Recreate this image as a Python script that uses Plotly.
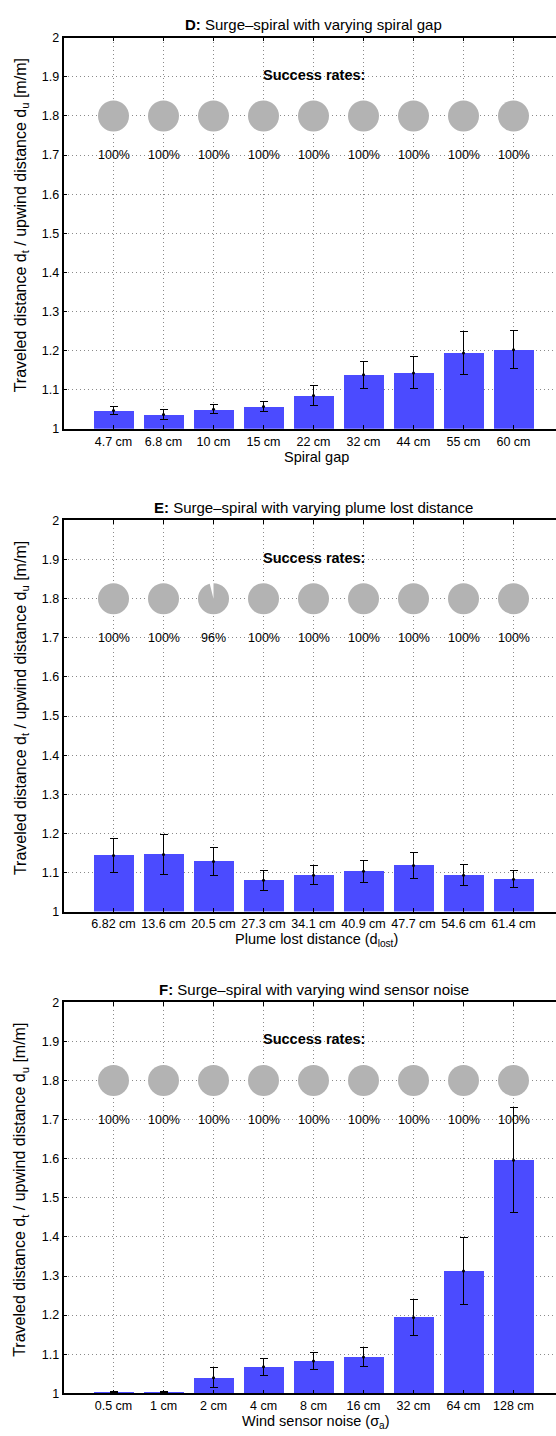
import math
import plotly.graph_objects as go

# ---------------- data ----------------
gap_labels = ["4.7 cm", "6.8 cm", "10 cm", "15 cm", "22 cm", "32 cm", "44 cm", "55 cm", "60 cm"]
gap_mean = [1.047, 1.037, 1.050, 1.057, 1.085, 1.138, 1.143, 1.194, 1.202]
gap_err = [0.011, 0.012, 0.012, 0.013, 0.025, 0.034, 0.041, 0.056, 0.049]
gap_success = [100, 100, 100, 100, 100, 100, 100, 100, 100]

lost_labels = ["6.82 cm", "13.6 cm", "20.5 cm", "27.3 cm", "34.1 cm", "40.9 cm", "47.7 cm", "54.6 cm", "61.4 cm"]
lost_mean = [1.1435, 1.146, 1.128, 1.080, 1.093, 1.103, 1.118, 1.093, 1.083]
lost_err = [0.044, 0.051, 0.036, 0.025, 0.024, 0.028, 0.034, 0.027, 0.021]
lost_success = [100, 100, 96, 100, 100, 100, 100, 100, 100]

noise_labels = ["0.5 cm", "1 cm", "2 cm", "4 cm", "8 cm", "16 cm", "32 cm", "64 cm", "128 cm"]
noise_mean = [1.003, 1.003, 1.040, 1.068, 1.083, 1.093, 1.194, 1.313, 1.596]
noise_err = [0.002, 0.002, 0.025, 0.022, 0.022, 0.024, 0.045, 0.085, 0.134]
noise_success = [100, 100, 100, 100, 100, 100, 100, 100, 100]

y_ticks = [1.0, 1.1, 1.2, 1.3, 1.4, 1.5, 1.6, 1.7, 1.8, 1.9, 2.0]
y_ticktext = ["1", "1.1", "1.2", "1.3", "1.4", "1.5", "1.6", "1.7", "1.8", "1.9", "2"]

panels = [
    dict(title="<b>D:</b> Surge\u2013spiral with varying spiral gap", xlabel="Spiral gap",
         labels=gap_labels, mean=gap_mean, err=gap_err, success=gap_success),
    dict(title="<b>E:</b> Surge\u2013spiral with varying plume lost distance",
         xlabel="Plume lost distance (d<sub>lost</sub>)",
         labels=lost_labels, mean=lost_mean, err=lost_err, success=lost_success),
    dict(title="<b>F:</b> Surge\u2013spiral with varying wind sensor noise",
         xlabel="Wind sensor noise (\u03c3<sub>a</sub>)",
         labels=noise_labels, mean=noise_mean, err=noise_err, success=noise_success),
]

# ---------------- layout geometry (pixels) ----------------
W, H = 556, 1436
AX_LEFT = 63.5          # x = 0 of every panel
PX_PER_UNIT = 50.0      # width of one bar slot
PLOT_TOPS = [31.0, 518.5, 1005.0]
PLOT_HEIGHT = 395.0
TITLE_ABOVE = 13.0
XTITLE_BELOW = 28.5
YTITLE_X = 21.0
YTITLE_SHIFT = -8.0
PIE_RX, PIE_RY = 15.5, 16.0
PIE_Y = 1.8

FONT = "Liberation Sans"
BAR_COLOR = "#4b4bff"
PIE_COLOR = "#b3b3b3"
GRID_COLOR = "#8a8a8a"


def py(px):
    """pixel row -> paper fraction"""
    return 1.0 - px / H


fig = go.Figure()
x_right = (W - AX_LEFT) / PX_PER_UNIT
annotations = []

for k, p in enumerate(panels):
    n = k + 1
    xa = "x" if n == 1 else f"x{n}"
    ya = "y" if n == 1 else f"y{n}"
    xpos = list(range(1, len(p["labels"]) + 1))
    top = PLOT_TOPS[k]
    bottom = top + PLOT_HEIGHT
    y_per_px = 1.0 / PLOT_HEIGHT
    x_per_px = 1.0 / PX_PER_UNIT

    fig.add_trace(go.Bar(
        x=xpos, y=p["mean"], width=0.8, marker=dict(color=BAR_COLOR, line=dict(width=0)),
        error_y=dict(type="data", array=p["err"], color="black", thickness=1, width=4),
        xaxis=xa, yaxis=ya, showlegend=False, hoverinfo="skip"))
    fig.add_trace(go.Scatter(
        x=xpos, y=p["mean"], mode="markers", marker=dict(size=3, color="black"),
        xaxis=xa, yaxis=ya, showlegend=False, hoverinfo="skip"))

    # success-rate pies: grey disc, white slice for the failed share
    fig.add_trace(go.Scatter(
        x=xpos, y=[PIE_Y] * len(xpos), mode="markers",
        marker=dict(size=2 * PIE_RX, color=PIE_COLOR, line=dict(width=0)),
        xaxis=xa, yaxis=ya, showlegend=False, hoverinfo="skip"))
    for xi, rate in zip(xpos, p["success"]):
        if rate < 100:
            frac = (100 - rate) / 100.0
            a0 = math.pi / 2
            a1 = a0 + frac * 2 * math.pi
            wx, wy = [xi], [PIE_Y]
            for s in range(13):
                a = a0 + (a1 - a0) * s / 12
                wx.append(xi + (PIE_RX + 0.5) * math.cos(a) * x_per_px)
                wy.append(PIE_Y + (PIE_RY + 0.5) * math.sin(a) * y_per_px)
            wx.append(xi)
            wy.append(PIE_Y)
            fig.add_trace(go.Scatter(
                x=wx, y=wy, mode="lines", fill="toself", fillcolor="white",
                line=dict(width=0, color="white"),
                xaxis=xa, yaxis=ya, showlegend=False, hoverinfo="skip"))
        annotations.append(dict(xref=xa, yref=ya, x=xi, y=1.7, text=f"{rate}%", showarrow=False,
                                font=dict(family=FONT, size=12.5, color="black"),
                                xanchor="center", yanchor="middle"))

    axis_common = dict(showline=True, linecolor="black", linewidth=1.5, ticks="inside",
                       ticklen=4, tickcolor="black", showgrid=True, gridcolor=GRID_COLOR,
                       griddash="1px,3px", gridwidth=1, zeroline=False,
                       tickfont=dict(family=FONT, size=12.5, color="black"))
    fig.update_layout({
        ("xaxis" if n == 1 else f"xaxis{n}"): dict(
            axis_common, domain=[AX_LEFT / W, 1.0], range=[0, x_right],
            tickvals=xpos, ticktext=p["labels"], mirror="ticks", anchor=ya),
        ("yaxis" if n == 1 else f"yaxis{n}"): dict(
            axis_common, domain=[py(bottom), py(top)], range=[1, 2],
            tickvals=y_ticks, ticktext=y_ticktext, mirror=False, anchor=xa),
    })

    annotations.append(dict(xref=xa, yref=ya, x=5, y=1.905, text="<b>Success rates:</b>",
                            showarrow=False, font=dict(family=FONT, size=14.5, color="black"),
                            xanchor="center", yanchor="middle"))
    # panel title
    annotations.append(dict(xref=xa, yref="paper", x=5, y=py(top - TITLE_ABOVE), text=p["title"],
                            showarrow=False, font=dict(family=FONT, size=15, color="black"),
                            xanchor="center", yanchor="middle"))
    # x axis title
    annotations.append(dict(xref=xa, yref="paper", x=5.05, y=py(bottom + XTITLE_BELOW),
                            text=p["xlabel"], showarrow=False,
                            font=dict(family=FONT, size=14.5, color="black"),
                            xanchor="center", yanchor="middle"))
    # y axis title
    annotations.append(dict(xref="paper", yref="paper", x=YTITLE_X / W,
                            y=py((top + bottom) / 2 + YTITLE_SHIFT),
                            text="Traveled distance d<sub>t</sub> / upwind distance d<sub>u</sub> [m/m]",
                            textangle=-90, showarrow=False,
                            font=dict(family=FONT, size=16, color="black"),
                            xanchor="center", yanchor="middle"))

fig.update_layout(width=W, height=H, margin=dict(l=0, r=0, t=0, b=0),
                  paper_bgcolor="white", plot_bgcolor="white", bargap=0,
                  annotations=annotations, showlegend=False)

fig.write_html("out.html")
